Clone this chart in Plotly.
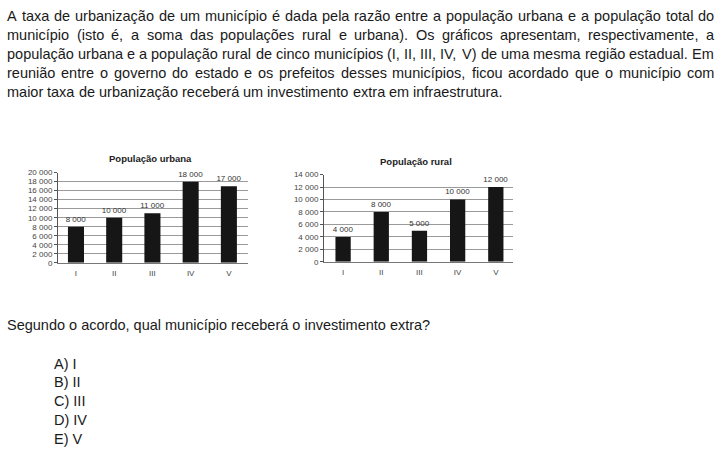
import plotly.graph_objects as go

W, H = 720, 456

municipios = ["I", "II", "III", "IV", "V"]
pop_urbana = [8000, 10000, 11000, 18000, 17000]
pop_rural = [4000, 8000, 5000, 10000, 12000]
ticks_urbana = list(range(0, 20001, 2000))
ticks_rural = list(range(0, 14001, 2000))

paragrafo = [
    "A taxa de urbanização de um município é dada pela razão entre a população urbana e a população total do",
    "município (isto é, a soma das populações rural e urbana). Os gráficos apresentam, respectivamente, a",
    "população urbana e a população rural de cinco municípios (I, II, III, IV, V) de uma mesma região estadual. Em",
    "reunião entre o governo do estado e os prefeitos desses municípios, ficou acordado que o município com",
    "maior taxa de urbanização receberá um investimento extra em infraestrutura.",
]
pergunta = "Segundo o acordo, qual município receberá o investimento extra?"
alternativas = ["A) I", "B) II", "C) III", "D) IV", "E) V"]

FONT = "Liberation Sans, Arial, sans-serif"

def fmt(v):
    return f"{v:,}".replace(",", " ")

# Arial / Liberation Sans advance widths (units per 1000 em)
AW = {' ': 278, '(': 333, ')': 333, ',': 278, '-': 333, '.': 278, '?': 556, ':': 278}
for c, w in zip("abcdefghijklmnopqrstuvwxyz",
                [556, 556, 500, 556, 556, 278, 556, 556, 222, 222, 500, 222, 833,
                 556, 556, 556, 556, 333, 500, 278, 556, 500, 722, 500, 500, 500]):
    AW[c] = w
for c, w in zip("ABCDEFGHIJKLMNOPQRSTUVWXYZ",
                [667, 667, 722, 722, 667, 611, 778, 722, 278, 500, 667, 556, 833,
                 722, 778, 667, 778, 722, 667, 611, 722, 667, 944, 667, 667, 611]):
    AW[c] = w
AW.update({'á': 556, 'à': 556, 'ã': 556, 'â': 556, 'é': 556, 'ê': 556, 'í': 278,
           'ó': 556, 'õ': 556, 'ô': 556, 'ú': 556, 'ç': 500})

def tw(s, fs):
    return sum(AW.get(ch, 556) for ch in s) * fs / 1000.0

fig = go.Figure()

LBL = dict(family=FONT, size=8, color="#333")
fig.add_trace(go.Bar(
    x=municipios, y=pop_urbana, xaxis="x", yaxis="y",
    marker=dict(color="#161616", line=dict(width=0)), width=0.42,
    text=[fmt(v) for v in pop_urbana], textposition="outside", constraintext="none",
    textfont=LBL, cliponaxis=False, showlegend=False,
))
fig.add_trace(go.Bar(
    x=municipios, y=pop_rural, xaxis="x2", yaxis="y2",
    marker=dict(color="#161616", line=dict(width=0)), width=0.4,
    text=[fmt(v) for v in pop_rural], textposition="outside", constraintext="none",
    textfont=LBL, cliponaxis=False, showlegend=False,
))

def px(x):
    return x / W

def py(y):
    return 1 - y / H

axis_common = dict(
    showgrid=True, gridcolor="#9a9a9a", gridwidth=1,
    showline=True, linecolor="#555", linewidth=1,
    ticks="outside", ticklen=3, tickcolor="#555",
    zeroline=False, fixedrange=True,
)
TICKF = dict(family=FONT, size=8, color="#444")

fig.update_layout(
    width=W, height=H,
    margin=dict(l=0, r=0, t=0, b=0),
    paper_bgcolor="white", plot_bgcolor="white",
    xaxis=dict(domain=[px(58), px(248)], anchor="y", showline=True, linecolor="#777",
               ticks="", showgrid=False, fixedrange=True, range=[-0.47, 4.5],
               tickfont=TICKF, ticklabelstandoff=3),
    yaxis=dict(domain=[py(264), py(172)], anchor="x", range=[0, 20000],
               tickvals=ticks_urbana, ticktext=[fmt(v) for v in ticks_urbana],
               tickfont=TICKF, **axis_common),
    xaxis2=dict(domain=[px(324), px(513)], anchor="y2", showline=True, linecolor="#777",
                ticks="", showgrid=False, fixedrange=True, range=[-0.5, 4.45],
                tickfont=TICKF, ticklabelstandoff=3),
    yaxis2=dict(domain=[py(263), py(174)], anchor="x2", range=[0, 14000],
                tickvals=ticks_rural, ticktext=[fmt(v) for v in ticks_rural],
                tickfont=TICKF, **axis_common),
)

ann = []
# chart titles
ann.append(dict(text="<b>População urbana</b>", x=px(150), y=py(158), xref="paper", yref="paper",
                showarrow=False, xanchor="center", yanchor="middle",
                font=dict(family=FONT, size=9.5, color="#222")))
ann.append(dict(text="<b>População rural</b>", x=px(416), y=py(161), xref="paper", yref="paper",
                showarrow=False, xanchor="center", yanchor="middle",
                font=dict(family=FONT, size=9.5, color="#222")))

# justified paragraph, word by word
FS = 14.5
LEFT, RIGHT = 6, 713
line_mid = [12.5, 31.8, 51.0, 70.3, 89.6]
for i, line in enumerate(paragrafo):
    words = line.split(" ")
    widths = [tw(w, FS) for w in words]
    if i < len(paragrafo) - 1:
        gap = (RIGHT - LEFT - sum(widths)) / (len(words) - 1)
    else:
        gap = tw(" ", FS)
    x = LEFT
    for w, wd in zip(words, widths):
        ann.append(dict(text=w, x=px(x), y=py(line_mid[i]), xref="paper", yref="paper",
                        showarrow=False, xanchor="left", yanchor="middle", borderpad=0,
                        font=dict(family=FONT, size=FS, color="#1a1a1a")))
        x += wd + gap

ann.append(dict(text=pergunta, x=px(6), y=py(327.5), xref="paper", yref="paper",
                showarrow=False, xanchor="left", yanchor="middle", borderpad=0,
                font=dict(family=FONT, size=FS, color="#1a1a1a")))
opt_mid = [367, 386, 405, 424.5, 444]
for t, ym in zip(alternativas, opt_mid):
    ann.append(dict(text=t, x=px(53), y=py(ym), xref="paper", yref="paper",
                    showarrow=False, xanchor="left", yanchor="middle", borderpad=0,
                    font=dict(family=FONT, size=FS, color="#1a1a1a")))

fig.update_layout(annotations=ann)
fig.write_html("out.html")
